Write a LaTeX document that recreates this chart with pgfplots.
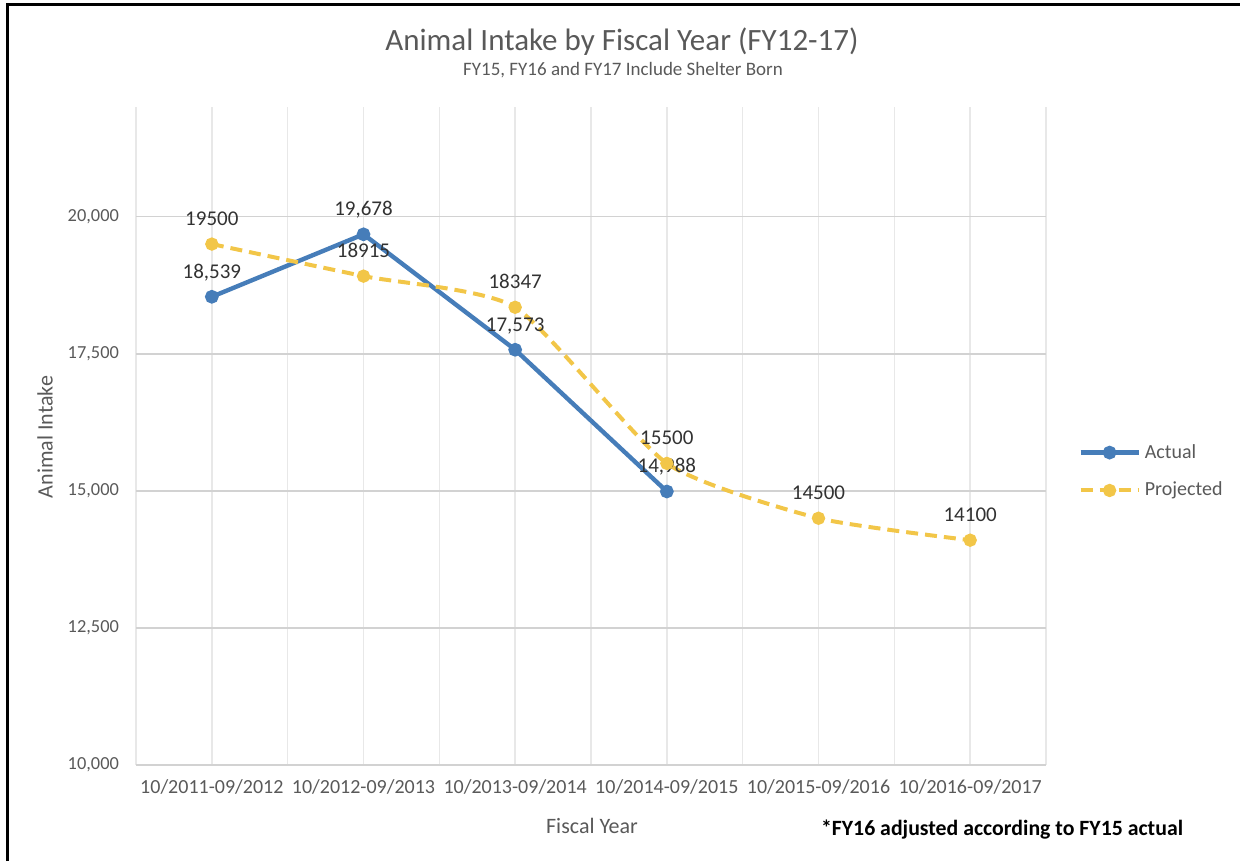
\documentclass[border=0pt]{standalone}
\usepackage{fontspec}
\setmainfont{Carlito}
\usepackage{pgfplots}
\pgfplotsset{compat=1.18}

\definecolor{actualblue}{RGB}{70,125,185}
\definecolor{projgold}{RGB}{242,198,72}
\definecolor{txtgray}{RGB}{89,89,89}
\definecolor{lbltxt}{RGB}{50,50,50}
\definecolor{hgrid}{RGB}{210,210,210}
\definecolor{vgrid}{RGB}{232,232,232}

\begin{document}
\begin{tikzpicture}[x=1pt,y=1pt]
\useasboundingbox (0,0) rectangle (620,430.5);
% frame on the left and top
\draw[line width=1.5pt] (3.5,0) -- (3.5,428) -- (620,428);

% titles
\node[font=\fontsize{15.5}{18}\selectfont, text=txtgray] at (311,409.5) {Animal Intake by Fiscal Year (FY12-17)};
\node[font=\fontsize{9.5}{11}\selectfont, text=txtgray] at (311.5,395.5) {FY15, FY16 and FY17 Include Shelter Born};

\begin{axis}[
  at={(68pt,48pt)}, anchor=south west,
  width=455pt, height=329pt, scale only axis,
  xmin=-0.5, xmax=5.5, ymin=10000, ymax=22000,
  xtick={0,...,5},
  xticklabels={10/2011-09/2012,10/2012-09/2013,10/2013-09/2014,10/2014-09/2015,10/2015-09/2016,10/2016-09/2017},
  minor xtick={-0.5,0.5,1.5,2.5,3.5,4.5,5.5},
  ytick={10000,12500,15000,17500,20000},
  scaled y ticks=false,
  ymajorgrids, xminorgrids, xmajorgrids,
  y grid style={hgrid, line width=0.8pt},
  x grid style={vgrid, line width=0.8pt},
  minor x grid style={vgrid, line width=0.8pt},
  axis line style={draw=none},
  major tick length=0pt, minor tick length=0pt,
  /pgf/number format/assume math mode=true,
  xticklabel style={font=\fontsize{10}{12}\selectfont, text=txtgray, yshift=-4pt},
  yticklabel style={font=\fontsize{9.2}{11}\selectfont, text=txtgray, xshift=-5pt},
  clip=false,
  legend style={draw=none, fill=none, at={(1,0.446)}, anchor=west, xshift=13pt,
    font=\fontsize{10}{12}\selectfont, text=txtgray, row sep=6.5pt},
  legend cell align=left,
  legend image code/.code={\draw[mark repeat=2,mark phase=2,#1] plot coordinates {(0pt,0pt)(14.5pt,0pt)(29pt,0pt)};},
  nodes near coords,
  every node near coord/.append style={font=\fontsize{10.5}{12}\selectfont, text=lbltxt},
]
\addplot[actualblue, line width=2.2pt, mark=*, mark size=2.3pt, mark options={solid},
  every node near coord/.append style={/pgf/number format/1000 sep={,}, yshift=3.5pt}]
  coordinates {(0,18539) (1,19678) (2,17573) (3,14988)};
\addlegendentry{Actual}
\addplot[projgold, line width=2pt, dash pattern=on 6pt off 3.5pt, smooth, tension=0.35,
  mark=*, mark size=2.3pt, mark options={solid},
  every node near coord/.append style={/pgf/number format/1000 sep={}, yshift=5pt}]
  coordinates {(0,19500) (1,18915) (2,18347) (3,15500) (4,14500) (5,14100)};
\addlegendentry{Projected}
\end{axis}

% axis titles and note
\node[rotate=90, font=\fontsize{11}{13}\selectfont, text=txtgray] at (22.5,212) {Animal Intake};
\node[font=\fontsize{11}{13}\selectfont, text=txtgray] at (296,17.5) {Fiscal Year};
\node[font=\bfseries\fontsize{10.9}{13}\selectfont, text=black] at (501,15.5) {*FY16 adjusted according to FY15 actual};
\end{tikzpicture}
\end{document}
